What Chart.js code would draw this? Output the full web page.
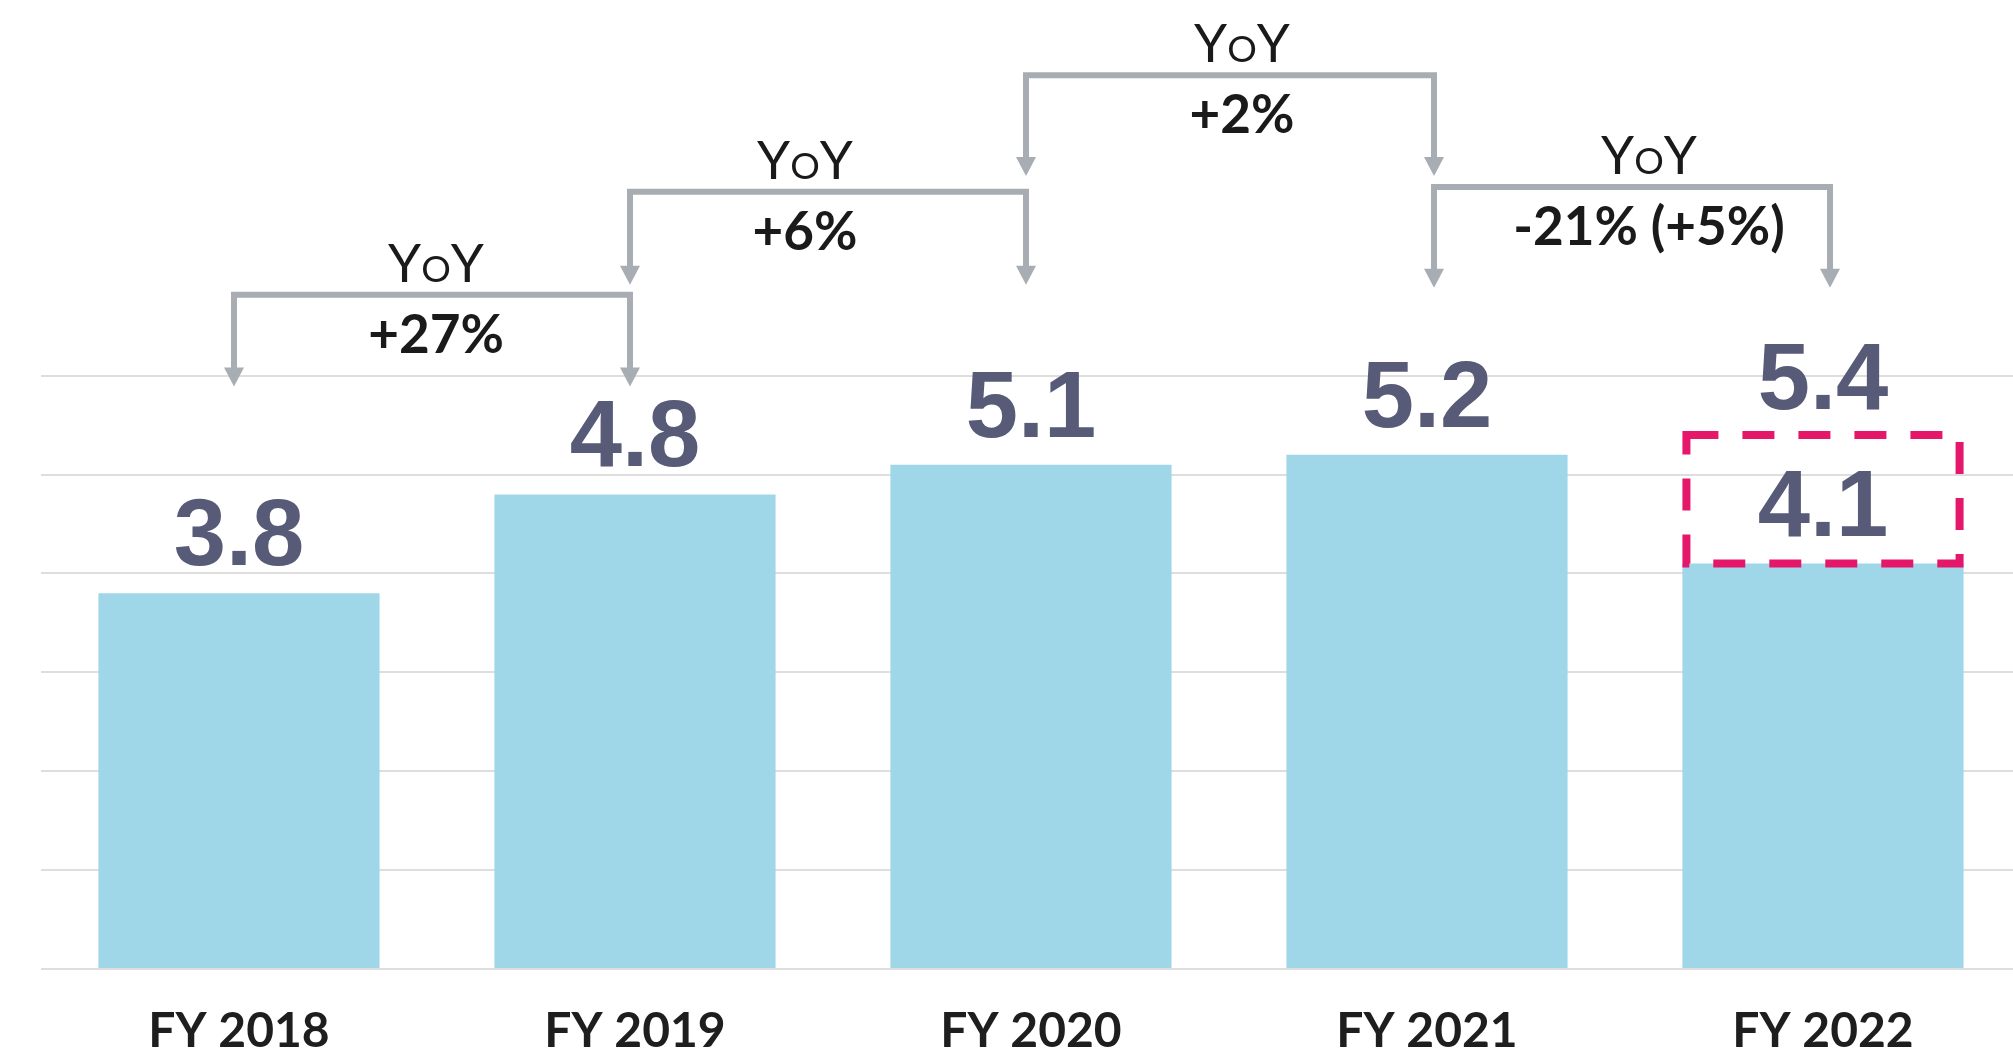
<!DOCTYPE html>
<html lang="en">

<head>
  <meta charset="UTF-8">
  <meta name="viewport" content="width=device-width, initial-scale=1.0">
  <title>FY 2018 - FY 2022</title>
  <script src="https://cdn.jsdelivr.net/npm/chart.js"></script>
  <style>
    html, body {
      margin: 0;
      padding: 0;
      background: #ffffff;
      overflow: hidden;
    }
    #wrap {
      position: absolute;
      left: 0;
      top: 0;
      width: 2021px;
      height: 1057px;
    }
  </style>
</head>

<body>
  <div id="wrap"><canvas id="fyChart"></canvas></div>
  <script>
    const categories = ['FY 2018', 'FY 2019', 'FY 2020', 'FY 2021', 'FY 2022'];
    const values = [3.8, 4.8, 5.1, 5.2, 4.1];
    // comparable figure for the last year, shown above the dashed box
    const adjustedValues = [null, null, null, null, 5.4];
    const yoyLabels = ['+27%', '+6%', '+2%', '-21% (+5%)'];
    const gridValues = [0, 1, 2, 3, 4, 5, 6];

    // bracket rows, in axis units: horizontal bar and arrow tips
    const bracketTop = [6.82, 7.86, 9.04, 7.91];
    const bracketTip = [5.89, 6.92, 8.02, 6.89];
    // small pixel nudges for the arrow stems and the bracket captions
    const stemShift = [-5, -5, -5, 7, 7];
    const captionShift = [4, -23, 12, 17];

    const labelFont = 'bold 94px "Liberation Sans", Arial, sans-serif';
    const labelColor = '#585b78';
    const bracketColor = '#a7adb3';

    // "YoY" with a small-caps o
    function drawYoY(ctx, cx, baseline) {
      const big = '400 53px Lato';
      const small = '400 37px Lato';
      ctx.font = big;
      const wY = ctx.measureText('Y').width;
      ctx.font = small;
      const wO = ctx.measureText('O').width;
      let x = cx - (2 * wY + wO) / 2;
      ctx.textAlign = 'left';
      ctx.font = big;
      ctx.fillText('Y', x, baseline);
      x += wY;
      ctx.font = small;
      ctx.fillText('O', x, baseline);
      x += wO;
      ctx.font = big;
      ctx.fillText('Y', x, baseline);
      ctx.textAlign = 'center';
    }

    const annotations = {
      id: 'annotations',
      afterDatasetsDraw(chart) {
        const ctx = chart.ctx;
        const yScale = chart.scales.y;
        const bars = chart.getDatasetMeta(0).data;

        ctx.save();
        ctx.textAlign = 'center';
        ctx.textBaseline = 'alphabetic';

        bars.forEach((bar, i) => {
          ctx.font = labelFont;
          ctx.fillStyle = labelColor;
          ctx.fillText(values[i].toFixed(1), bar.x, bar.y - 28);

          if (adjustedValues[i] != null) {
            const top = yScale.getPixelForValue(adjustedValues[i]);
            ctx.fillText(adjustedValues[i].toFixed(1), bar.x, top - 26);

            const left = bar.x - bar.width / 2 + 4;
            const right = bar.x + bar.width / 2 - 4;
            ctx.save();
            ctx.strokeStyle = '#e5176b';
            ctx.lineWidth = 8;
            ctx.setLineDash([32, 24]);
            ctx.strokeRect(left, top, right - left, bar.y - top);
            ctx.restore();
          }
        });

        // year-over-year brackets
        yoyLabels.forEach((label, i) => {
          const x1 = bars[i].x + stemShift[i];
          const x2 = bars[i + 1].x + stemShift[i + 1];
          const top = yScale.getPixelForValue(bracketTop[i]);
          const tip = yScale.getPixelForValue(bracketTip[i]);
          const head = 19;

          ctx.strokeStyle = bracketColor;
          ctx.fillStyle = bracketColor;
          ctx.lineWidth = 6;
          ctx.lineJoin = 'miter';
          ctx.beginPath();
          ctx.moveTo(x1, tip - head + 2);
          ctx.lineTo(x1, top);
          ctx.lineTo(x2, top);
          ctx.lineTo(x2, tip - head + 2);
          ctx.stroke();

          [x1, x2].forEach(x => {
            ctx.beginPath();
            ctx.moveTo(x - 10, tip - head);
            ctx.lineTo(x + 10, tip - head);
            ctx.lineTo(x, tip);
            ctx.closePath();
            ctx.fill();
          });

          const mid = (x1 + x2) / 2 + captionShift[i];
          ctx.fillStyle = '#1a1a1a';
          drawYoY(ctx, mid, top - 13);
          ctx.font = 'bold 53px Lato';
          ctx.fillText(label, mid, top + 58);
        });

        ctx.restore();
      }
    };

    const ctx = document.getElementById('fyChart').getContext('2d');
    new Chart(ctx, {
      type: 'bar',
      data: {
        labels: categories,
        datasets: [
          {
            data: values,
            backgroundColor: '#9fd7e8',
            borderWidth: 0,
            barPercentage: 0.71,
            categoryPercentage: 1.0
          }
        ]
      },
      options: {
        responsive: true,
        maintainAspectRatio: false,
        animation: false,
        layout: {
          padding: { left: 41, right: 0, top: 0, bottom: 0 }
        },
        plugins: {
          legend: { display: false },
          tooltip: { enabled: false }
        },
        scales: {
          x: {
            grid: { display: false, drawTicks: false },
            border: { display: false },
            ticks: {
              color: '#1e1e1e',
              padding: 34,
              font: { family: 'Lato', weight: 'bold', size: 48 }
            },
            afterFit: scale => { scale.height = 88; }
          },
          y: {
            min: 0,
            max: 9.8,
            grid: { color: '#dedede', lineWidth: 2, drawTicks: false },
            border: { display: false },
            ticks: { display: false },
            afterBuildTicks: scale => {
              scale.ticks = gridValues.map(v => ({ value: v }));
            },
            afterFit: scale => { scale.width = 0; }
          }
        }
      },
      plugins: [annotations]
    });
  </script>
</body>

</html>
